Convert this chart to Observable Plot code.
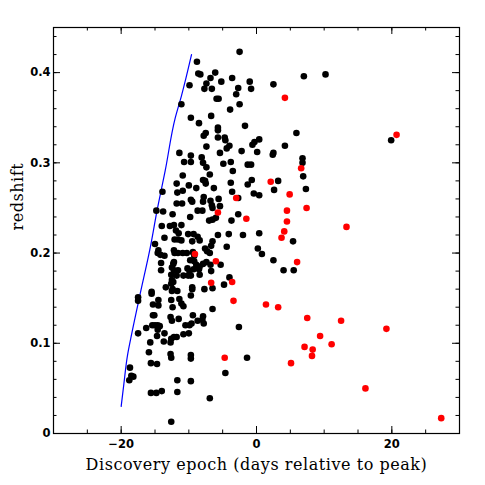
<!DOCTYPE html>
<html><head><meta charset="utf-8">
<script src="https://cdn.jsdelivr.net/npm/d3@7"></script>
<script src="https://cdn.jsdelivr.net/npm/@observablehq/plot@0.6"></script>
<style>body{margin:0;background:#fff}</style>
</head><body><div id="chart"></div>
<script>
// Black points (discovery epoch, redshift)
const blackX = [-2.5,-8.8,-8.6,-8.3,-6.1,-6.8,-5.2,-7.4,-3.6,-1.0,-0.8,-9.9,-7.7,-6.6,-2.7,-3.0,-5.9,-5.6,2.5,7.0,10.2,-11.1,-2.5,-3.9,-9.7,-6.7,-8.5,-1.7,-5.7,-5.7,-7.8,-7.5,5.9,-5.7,-4.7,-4.6,0.4,-0.3,-0.6,-4.0,-4.4,-7.4,4.2,-11.4,-5.4,-2.2,0.1,2.5,2.4,6.8,6.8,-10.7,-9.7,-9.7,-8.1,-7.9,-7.4,-4.9,-3.8,-3.5,-1.3,-0.8,-10.9,-6.9,6.9,-11.8,-10.0,-7.9,-7.6,-7.5,-6.3,-8.9,-3.8,-0.7,-1.3,3.2,2.6,7.3,-11.7,-10.9,-13.9,-3.6,-0.4,0.4,-7.8,-7.9,-9.7,-9.5,-11.8,-11.0,-6.8,-6.6,-6.5,-5.6,-5.4,-2.7,-8.7,-8.0,-14.8,-13.8,-12.4,-2.7,-9.8,-6.5,-7.0,-6.0,-3.7,-12.8,-12.2,-14.0,-11.1,-11.9,-11.5,-13.6,-10.1,-9.3,-8.7,-8.4,-9.5,-11.6,-11.1,-12.1,-5.7,-4.1,-2.0,0.4,5.4,-6.5,-6.7,-15.0,-4.4,-14.5,-14.6,-12.2,-12.1,-11.6,-10.9,-10.3,-13.6,-14.2,-9.4,-9.2,-7.6,-7.3,-6.9,0.2,0.8,2.5,-14.1,-12.3,-12.2,-9.8,-9.2,-8.9,-8.4,-7.9,-7.4,-6.8,-8.5,-5.3,-14.1,-12.5,-12.2,-11.6,-10.2,-9.9,-9.3,-12.6,-11.8,-10.8,-10.1,-9.7,-8.4,-6.7,4.0,5.5,-4.0,-12.5,-12.3,-12.6,-4.8,-13.4,-12.4,-12.5,-11.7,-9.5,-9.5,-7.7,-6.5,-15.5,-15.5,-17.5,-17.5,-9.7,-14.5,-12.6,-11.4,-11.1,-10.8,-15.3,-14.5,-12.4,-6.5,-15.3,-15.1,-12.7,-12.5,-11.5,-9.4,-8.7,-8.0,-7.9,-7.8,-9.6,-15.4,-15.0,-14.6,-14.3,-16.3,-14.6,-9.9,-10.5,-2.6,-17.5,-13.6,-11.8,-12.2,-10.8,-10.0,-14.7,-15.7,-13.7,-12.6,-12.7,-15.9,-12.7,-12.6,-9.7,-9.7,-1.4,-15.6,-14.7,-18.7,-18.5,-18.2,-18.8,-4.6,-11.7,-9.7,-15.6,-14.8,-14.0,-11.7,-6.9,-12.6,19.9];
const blackY = [0.423,0.412,0.399,0.398,0.400,0.394,0.390,0.388,0.394,0.390,0.382,0.386,0.382,0.382,0.383,0.376,0.371,0.371,0.387,0.396,0.398,0.365,0.365,0.359,0.350,0.352,0.344,0.341,0.339,0.336,0.330,0.333,0.333,0.328,0.328,0.325,0.326,0.323,0.320,0.319,0.316,0.318,0.319,0.311,0.311,0.313,0.312,0.311,0.309,0.305,0.300,0.301,0.308,0.301,0.306,0.300,0.295,0.299,0.301,0.291,0.298,0.298,0.286,0.287,0.285,0.277,0.275,0.281,0.280,0.277,0.272,0.272,0.278,0.281,0.276,0.280,0.270,0.271,0.267,0.269,0.268,0.268,0.266,0.264,0.262,0.257,0.259,0.257,0.255,0.255,0.258,0.253,0.250,0.260,0.252,0.261,0.247,0.247,0.247,0.246,0.243,0.243,0.240,0.237,0.236,0.239,0.236,0.230,0.231,0.230,0.231,0.225,0.222,0.217,0.221,0.221,0.218,0.214,0.213,0.215,0.214,0.215,0.220,0.221,0.220,0.222,0.213,0.213,0.208,0.210,0.207,0.203,0.200,0.203,0.200,0.200,0.200,0.200,0.197,0.198,0.201,0.197,0.205,0.202,0.200,0.205,0.199,0.192,0.189,0.188,0.190,0.192,0.191,0.187,0.185,0.188,0.190,0.187,0.182,0.187,0.181,0.184,0.181,0.181,0.183,0.180,0.182,0.176,0.175,0.175,0.175,0.175,0.176,0.180,0.181,0.181,0.173,0.170,0.168,0.166,0.165,0.162,0.160,0.158,0.158,0.162,0.160,0.160,0.161,0.157,0.155,0.151,0.147,0.153,0.148,0.148,0.149,0.144,0.141,0.143,0.142,0.140,0.138,0.131,0.131,0.129,0.125,0.127,0.131,0.125,0.126,0.130,0.122,0.122,0.120,0.120,0.120,0.119,0.117,0.115,0.120,0.120,0.118,0.111,0.111,0.107,0.107,0.110,0.111,0.108,0.101,0.102,0.105,0.101,0.090,0.088,0.084,0.087,0.083,0.084,0.078,0.077,0.073,0.064,0.063,0.059,0.067,0.059,0.058,0.045,0.045,0.047,0.046,0.039,0.013,0.325];
// Red points
const redX = [20.7,4.2,6.6,2.1,4.9,-3.0,4.5,7.4,-5.7,-1.5,4.5,4.1,3.7,13.3,-9.1,6.0,-6.0,-6.7,-3.6,-3.4,1.4,3.2,7.5,12.5,19.2,9.4,11.1,7.1,8.3,8.2,-4.7,5.1,16.1,27.3];
const redY = [0.331,0.372,0.294,0.279,0.265,0.261,0.247,0.250,0.245,0.238,0.235,0.224,0.217,0.229,0.199,0.190,0.191,0.167,0.168,0.147,0.143,0.140,0.128,0.125,0.116,0.108,0.099,0.096,0.093,0.086,0.084,0.078,0.050,0.017];
// Blue boundary line
const lineX = [-20,-19.6,-19.1,-18.4,-17.3,-15.6,-14.7,-13.5,-12.0,-11.1,-9.6];
const lineY = [0.030,0.055,0.085,0.112,0.151,0.210,0.247,0.291,0.350,0.374,0.420];
// Axis ticks and labels
const xTickLabels = [-20, 0, 20];
const yTickLabels = [0, 0.1, 0.2, 0.3, 0.4];
const xMinorTicks = [-25,-20,-15,-10,-5,0,5,10,15,20,25];
const yMinorTicks = [0.02,0.04,0.06,0.08,0.1,0.12,0.14,0.16,0.18,0.2,0.22,0.24,0.26,0.28,0.3,0.32,0.34,0.36,0.38,0.4,0.42,0.44];
const xTitle = "Discovery epoch (days relative to peak)";
const yTitle = "redshift";

const W = 485, H = 485, mL = 53, mR = 26, mT = 27, mB = 52;
const fw = W - mL - mR, fh = H - mT - mB;
const black = blackX.map((x, i) => ({x, y: blackY[i]}));
const red = redX.map((x, i) => ({x, y: redY[i]}));
const line = lineX.map((x, i) => ({x, y: lineY[i]}));
const yMajor = yTickLabels.filter(d => d > 0);

const chart = Plot.plot({
  width: W, height: H,
  marginLeft: mL, marginRight: mR, marginTop: mT, marginBottom: mB,
  x: {domain: [-30, 30]},
  y: {domain: [0, 0.45]},
  style: {fontFamily: "DejaVu Sans", fontSize: "11px", background: "white", color: "black"},
  marks: [
    Plot.ruleX(xMinorTicks, {insetTop: fh - 3.5, stroke: "black"}),
    Plot.ruleX(xMinorTicks, {insetBottom: fh - 3.5, stroke: "black"}),
    Plot.ruleX(xTickLabels, {insetTop: fh - 7, stroke: "black"}),
    Plot.ruleX(xTickLabels, {insetBottom: fh - 7, stroke: "black"}),
    Plot.ruleY(yMinorTicks, {insetRight: fw - 3.5, stroke: "black"}),
    Plot.ruleY(yMinorTicks, {insetLeft: fw - 3.5, stroke: "black"}),
    Plot.ruleY(yMajor, {insetRight: fw - 7, stroke: "black"}),
    Plot.ruleY(yMajor, {insetLeft: fw - 7, stroke: "black"}),
    Plot.axisX(xTickLabels, {tickSize: 0, tickPadding: 6, label: null, fontWeight: "bold", fontSize: 11.5,
      tickFormat: d => d < 0 ? "\u2212" + Math.abs(d) : String(d)}),
    Plot.axisY(yTickLabels, {tickSize: 0, tickPadding: 3, label: null, fontWeight: "bold", fontSize: 11.5,
      tickFormat: d => d === 0 ? "0" : d.toFixed(1)}),
    Plot.line(line, {x: "x", y: "y", stroke: "#0000ff", strokeWidth: 1.2, curve: "monotone-y"}),
    Plot.dot(black, {x: "x", y: "y", r: 3.3, fill: "black"}),
    Plot.dot(red, {x: "x", y: "y", r: 3.3, fill: "#ff0000"}),
    Plot.frame({stroke: "black", strokeWidth: 1.2}),
    Plot.text([xTitle], {text: d => d, frameAnchor: "bottom", dy: 31, lineAnchor: "middle",
      fontFamily: "DejaVu Serif", fontSize: 16}),
    Plot.text([yTitle], {text: d => d, frameAnchor: "left", dx: -36, rotate: -90, lineAnchor: "middle",
      fontFamily: "DejaVu Serif", fontSize: 16})
  ]
});
d3.select(chart).selectAll("text")
  .filter(function() { return this.textContent === xTitle || this.textContent === yTitle; })
  .attr("letter-spacing", "0.55px");
document.getElementById("chart").appendChild(chart);
</script>
</body></html>
